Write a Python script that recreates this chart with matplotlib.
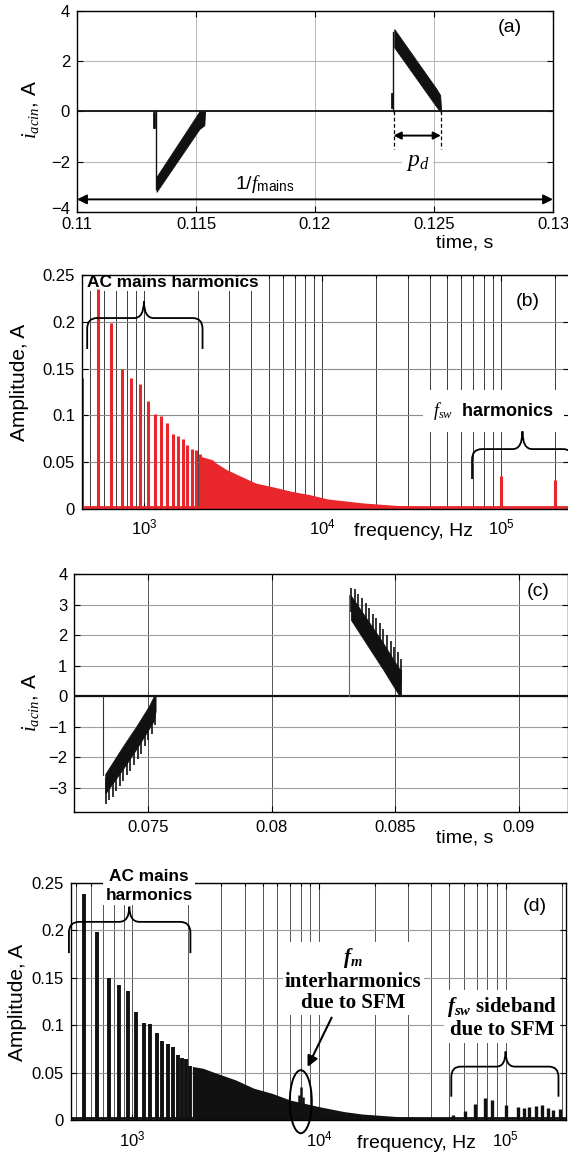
"""AC input current and its spectrum, fixed switching (a, b) vs. SFM (c, d)."""

import matplotlib

matplotlib.use("Agg")
import matplotlib.pyplot as plt
from matplotlib.patches import Ellipse, PathPatch
from matplotlib.path import Path
from matplotlib.transforms import ScaledTranslation
import numpy as np

plt.rcParams["font.family"] = ["Liberation Sans", "DejaVu Sans"]
plt.rcParams["mathtext.fontset"] = "custom"
plt.rcParams["mathtext.rm"] = "Liberation Sans"
plt.rcParams["mathtext.it"] = "Liberation Serif:italic"
plt.rcParams["mathtext.bf"] = "Liberation Serif:italic:bold"

RED = "#e8262c"
INK = "#111111"

# ---------------- (a) input current, fixed fsw ----------------
a_xticks = [0.11, 0.115, 0.12, 0.125, 0.13]
a_xticklabels = ["0.11", "0.115", "0.12", "0.125", "0.13"]
a_yticks = [-4, -2, 0, 2, 4]

a_neg_t = [0.11334, 0.11514, 0.11535, 0.11538]
a_neg_hi = [-2.60, 0.00, 0.00, 0.00]
a_neg_lo = [-3.20, -0.70, -0.55, 0.00]
a_neg_edge_t = [0.11332, 0.11332]
a_neg_edge_i = [0.0, -3.10]
a_neg_stub_t = [0.11324, 0.11324]
a_neg_stub_i = [-0.05, -0.60]

a_pos_t = [0.12333, 0.12510, 0.12526, 0.12530]
a_pos_hi = [3.28, 0.90, 0.65, 0.00]
a_pos_lo = [2.55, 0.19, 0.00, 0.00]
a_pos_edge_t = [0.12328, 0.12328]
a_pos_edge_i = [0.0, 3.15]
a_pos_stub_t = [0.12324, 0.12324]
a_pos_stub_i = [0.18, 0.71]

# ---------------- (b) spectrum, fixed fsw ----------------
b_harm_f = [450, 550, 650, 750, 850, 950, 1050, 1150, 1250, 1350, 1450,
            1550, 1650, 1750, 1850, 1950, 2050]
b_harm_amp = [0.140, 0.235, 0.199, 0.150, 0.140, 0.134, 0.115, 0.101, 0.0995,
              0.092, 0.080, 0.0775, 0.075, 0.068, 0.064, 0.063, 0.059]
b_env_f = [2100, 2420, 2540, 2910, 3350, 4230, 5330, 6740, 8500, 10700,
           17100, 27100, 36000, 45000]
b_env_amp = [0.056, 0.0526, 0.049, 0.042, 0.0366, 0.0277, 0.0235, 0.0188,
             0.0153, 0.0107, 0.0064, 0.0036, 0.0028, 0.0022]
b_floor_f = [450, 240000]
b_floor_amp = [0.002, 0.002]
b_sw_f = [100000, 200000]
b_sw_amp = [0.0356, 0.0313]

# ---------------- (c) input current, SFM ----------------
c_xticks = [0.075, 0.08, 0.085, 0.09]
c_xticklabels = ["0.075", "0.08", "0.085", "0.09"]
c_yticks = [-3, -2, -1, 0, 1, 2, 3, 4]

c_neg_t = [0.07325, 0.07400, 0.07450, 0.07500, 0.07522, 0.07529]
c_neg_hi = [-2.55, -1.60, -1.00, -0.35, 0.00, 0.00]
c_neg_lo = [-3.20, -2.35, -1.75, -1.10, -0.80, -0.50]
c_neg_tip_t = [0.07327, 0.07341, 0.07355, 0.07369, 0.07384, 0.07398, 0.07413,
               0.07427, 0.07442, 0.07456, 0.07471, 0.07485, 0.07500, 0.07514,
               0.07527]
c_neg_tip_lo = [-3.55, -3.40, -3.30, -3.10, -2.95, -2.80, -2.60, -2.45, -2.25,
                -2.05, -1.90, -1.65, -1.45, -1.25, -0.95]
c_neg_tip_hi = [-2.70, -2.55, -2.45, -2.30, -2.15, -2.00, -1.80, -1.65, -1.45,
                -1.25, -1.10, -0.85, -0.65, -0.45, -0.15]
c_neg_edge_t = [0.07317, 0.07317]
c_neg_edge_i = [0.0, -2.60]

c_pos_t = [0.08320, 0.08400, 0.08450, 0.08500, 0.08516, 0.08524]
c_pos_hi = [3.30, 2.35, 1.75, 1.10, 0.90, 0.85]
c_pos_lo = [2.50, 1.50, 0.88, 0.22, 0.02, 0.00]
c_pos_tip_t = [0.08322, 0.08336, 0.08351, 0.08365, 0.08380, 0.08394, 0.08409,
               0.08423, 0.08438, 0.08452, 0.08467, 0.08481, 0.08496, 0.08510,
               0.08522]
c_pos_tip_hi = [3.55, 3.50, 3.35, 3.20, 3.05, 2.90, 2.70, 2.55, 2.40, 2.20,
                2.00, 1.80, 1.60, 1.45, 1.20]
c_pos_tip_lo = [2.75, 2.70, 2.55, 2.40, 2.25, 2.10, 1.90, 1.75, 1.60, 1.40,
                1.20, 1.00, 0.80, 0.65, 0.40]
c_pos_edge_t = [0.08314, 0.08314]
c_pos_edge_i = [0.0, 3.30]

# ---------------- (d) spectrum, SFM ----------------
d_harm_f = [550, 650, 750, 850, 950, 1050, 1150, 1250, 1350, 1450, 1550,
            1650, 1750, 1850, 1950, 2050]
d_harm_amp = [0.238, 0.198, 0.150, 0.142, 0.136, 0.114, 0.102, 0.101, 0.092,
              0.083, 0.080, 0.0775, 0.069, 0.065, 0.064, 0.0565]
d_env_f = [2100, 2390, 2860, 3580, 4480, 5600, 7000, 10000, 13700, 17100,
           26800, 38400, 50000]
d_env_amp = [0.0565, 0.0546, 0.049, 0.0423, 0.0335, 0.0282, 0.0211, 0.0141,
             0.0088, 0.0063, 0.0035, 0.0025, 0.002]
d_floor_f = [470, 210000]
d_floor_amp = [0.0022, 0.0022]
d_ih_f = [7800, 8000, 8200]
d_ih_amp = [0.026, 0.035, 0.024]
d_sb_f = [52300, 60700, 68500, 77300, 84500, 100000, 117000, 125000, 134000,
          146000, 157000, 168000, 179000, 196000]
d_sb_amp = [0.005, 0.010, 0.017, 0.0236, 0.021, 0.0158, 0.014, 0.013, 0.014,
            0.0148, 0.0158, 0.0123, 0.0106, 0.0113]

amp_ticks = [0, 0.05, 0.1, 0.15, 0.2, 0.25]
amp_ticklabels = ["0", "0.05", "0.1", "0.15", "0.2", "0.25"]


def style(ax, xgrid, ygrid, xpad):
    ax.set_axisbelow("line")
    ax.tick_params(which="both", direction="in", top=True, right=True,
                   length=4, width=0.8, labelsize=12)
    ax.tick_params(axis="x", pad=xpad)
    ax.tick_params(axis="y", pad=5)
    ax.tick_params(which="minor", length=2.5)
    for s in ax.spines.values():
        s.set_linewidth(1.0)
    ax.grid(True, axis="x", which="both", color=xgrid, lw=0.7)
    ax.grid(True, axis="y", which="major", color=ygrid, lw=0.8)


def brace(ax, x0, x1, xtip, y_end, y_mid, y_tip, d=0.055):
    """Curly brace on a log-x axis, ends pointing down, tip pointing up."""
    l0, l1, lt = np.log10(x0), np.log10(x1), np.log10(xtip)
    hy = 0.35 * (y_mid - y_end)
    verts = [(x0, y_end), (x0, y_mid - hy), (x0, y_mid), (10 ** (l0 + d), y_mid),
             (10 ** (lt - d), y_mid), (xtip, y_mid), (xtip, y_tip),
             (xtip, y_mid), (10 ** (lt + d), y_mid),
             (10 ** (l1 - d), y_mid), (x1, y_mid), (x1, y_mid - hy), (x1, y_end)]
    codes = [Path.MOVETO, Path.LINETO, Path.CURVE3, Path.CURVE3,
             Path.LINETO, Path.CURVE3, Path.CURVE3,
             Path.CURVE3, Path.CURVE3,
             Path.LINETO, Path.CURVE3, Path.CURVE3, Path.LINETO]
    ax.add_patch(PathPatch(Path(verts, codes), fill=False, lw=1.3, color="black",
                           transform=ax.transData, clip_on=False, zorder=3))


fig = plt.figure(figsize=(5.68, 11.55), dpi=100)
ax_a = fig.add_axes([0.1356, 0.8165, 0.838, 0.174])
ax_b = fig.add_axes([0.1444, 0.5593, 0.857, 0.2026])
ax_c = fig.add_axes([0.1310, 0.2970, 0.869, 0.2060])
ax_d = fig.add_axes([0.1250, 0.0303, 0.871, 0.2052])

serif_bold = dict(family="Liberation Serif", weight="bold", fontsize=15)
white = dict(facecolor="white", edgecolor="none")

# ---- (a) ----
ax = ax_a
style(ax, "#b8b8b8", "#b8b8b8", 4)
ax.axhline(0, color=INK, lw=1.3, zorder=2)
ax.fill_between(a_neg_t, a_neg_lo, a_neg_hi, color=INK, lw=0.6, zorder=2.2)
ax.fill_between(a_pos_t, a_pos_lo, a_pos_hi, color=INK, lw=0.6, zorder=2.2)
ax.plot(a_neg_edge_t, a_neg_edge_i, color=INK, lw=1.0)
ax.plot(a_pos_edge_t, a_pos_edge_i, color=INK, lw=1.0)
ax.plot(a_neg_stub_t, a_neg_stub_i, color=INK, lw=2.0)
ax.plot(a_pos_stub_t, a_pos_stub_i, color=INK, lw=2.0)
ax.set_xlim(0.11, 0.13)
ax.set_ylim(-4, 4)
ax.set_xticks(a_xticks)
ax.set_xticklabels(a_xticklabels)
ax.set_yticks(a_yticks)
# the bottom y label sits just above the first time label
low = ax.get_yticklabels()[0]
low.set_transform(low.get_transform() + ScaledTranslation(0, 3 / 72, fig.dpi_scale_trans))
ax.annotate("", xy=(0.11, -3.5), xytext=(0.13, -3.5),
            arrowprops=dict(arrowstyle="<|-|>", color="black", lw=1.4,
                            mutation_scale=14, shrinkA=0, shrinkB=0))
ax.text(0.1179, -2.9, r"1/$f_{\mathrm{mains}}$", fontsize=14, ha="center", va="center")
for t in (0.12330, 0.12529):
    ax.plot([t, t], [0, -1.5], color="black", lw=0.9, ls=(0, (3, 2)))
ax.annotate("", xy=(0.12330, -0.96), xytext=(0.12529, -0.96),
            arrowprops=dict(arrowstyle="<|-|>", color="black", lw=1.4,
                            mutation_scale=11, shrinkA=0, shrinkB=0))
ax.text(0.1243, -2.0, r"$p_d$", fontsize=17, ha="center", va="center",
        bbox=dict(boxstyle="square,pad=0.15", **white))
ax.text(0.909, 0.918, "(a)", transform=ax.transAxes, fontsize=14, ha="center", va="center")
ax.text(-0.097, 0.51, r"$i_{acin}$, A", transform=ax.transAxes, fontsize=15,
        rotation=90, ha="center", va="center")
ax.text(0.815, -0.155, "time, s", transform=ax.transAxes, fontsize=14,
        ha="center", va="center")

# ---- (b) ----
ax = ax_b
ax.set_xscale("log")
style(ax, "#3c3c3c", "#8c8c8c", 6)
ax.vlines(b_harm_f, 0, b_harm_amp, color=RED, lw=2.2, zorder=2.4)
ax.fill_between(b_env_f, 0, b_env_amp, color=RED, lw=0, zorder=2.4)
ax.plot(b_floor_f, b_floor_amp, color=RED, lw=2.0, zorder=2.4)
ax.vlines(b_sw_f, 0, b_sw_amp, color=RED, lw=2.2, zorder=2.4)
ax.set_xlim(450, 240000)
ax.set_ylim(0, 0.25)
ax.set_yticks(amp_ticks)
ax.set_yticklabels(amp_ticklabels)
ax.text(480, 0.2495, "AC mains harmonics", fontsize=12.4, weight="bold",
        ha="left", va="top", zorder=2.3, bbox=dict(boxstyle="square,pad=0.05", **white))
brace(ax, 481, 2130, 1000, 0.171, 0.204, 0.222)
ax.text(91000, 0.1045, r"$f_{sw}$  harmonics", fontsize=13, weight="bold",
        ha="center", va="center", bbox=dict(boxstyle="square,pad=0.55", **white))
brace(ax, 68900, 253000, 132000, 0.032, 0.064, 0.083)
ax.text(0.916, 0.886, "(b)", transform=ax.transAxes, fontsize=14, ha="center", va="center")
ax.text(-0.129, 0.543, "Amplitude, A", transform=ax.transAxes, fontsize=15,
        rotation=90, ha="center", va="center")
ax.text(0.681, -0.098, "frequency, Hz", transform=ax.transAxes, fontsize=14,
        ha="center", va="center")

# ---- (c) ----
ax = ax_c
style(ax, "#555555", "#a0a0a0", 5.5)
ax.axhline(0, color=INK, lw=1.6, zorder=2)
ax.fill_between(c_neg_t, c_neg_lo, c_neg_hi, color=INK, lw=0.5, zorder=2.2)
ax.fill_between(c_pos_t, c_pos_lo, c_pos_hi, color=INK, lw=0.5, zorder=2.2)
ax.vlines(c_neg_tip_t, c_neg_tip_lo, c_neg_tip_hi, color=INK, lw=1.2, zorder=2.2)
ax.vlines(c_pos_tip_t, c_pos_tip_lo, c_pos_tip_hi, color=INK, lw=1.2, zorder=2.2)
ax.plot(c_neg_edge_t, c_neg_edge_i, color="#333333", lw=0.8)
ax.plot(c_pos_edge_t, c_pos_edge_i, color="#666666", lw=0.8)
ax.set_xlim(0.072, 0.092)
ax.set_ylim(-3.8, 4)
ax.set_xticks(c_xticks)
ax.set_xticklabels(c_xticklabels)
ax.set_yticks(c_yticks)
ax.text(0.94, 0.926, "(c)", transform=ax.transAxes, fontsize=14, ha="center", va="center")
ax.text(-0.088, 0.462, r"$i_{acin}$, A", transform=ax.transAxes, fontsize=15,
        rotation=90, ha="center", va="center")
ax.text(0.79, -0.109, "time, s", transform=ax.transAxes, fontsize=14,
        ha="center", va="center")

# ---- (d) ----
ax = ax_d
ax.set_xscale("log")
style(ax, "#555555", "#999999", 7)
ax.vlines(d_harm_f, 0, d_harm_amp, color=INK, lw=2.8, zorder=2.4)
ax.fill_between(d_env_f, 0, d_env_amp, color=INK, lw=0, zorder=2.4)
ax.plot(d_floor_f, d_floor_amp, color=INK, lw=2.0, zorder=2.4)
ax.vlines(d_ih_f, 0, d_ih_amp, color=INK, lw=1.8, zorder=2.4)
ax.vlines(d_sb_f, 0, d_sb_amp, color=INK, lw=2.4, zorder=2.4)
ax.set_xlim(470, 210000)
ax.set_ylim(0, 0.25)
ax.set_yticks(amp_ticks)
ax.set_yticklabels(amp_ticklabels)
ax.text(1230, 0.247, "AC mains\nharmonics", fontsize=12.4, weight="bold",
        ha="center", va="center", linespacing=1.3,
        bbox=dict(boxstyle="square,pad=0.15", **white))
brace(ax, 458, 2050, 965, 0.176, 0.209, 0.225)
ax.text(15300, 0.148, "$\\mathbf{f_m}$\ninterharmonics\ndue to SFM", ha="center",
        va="center", linespacing=1.1, bbox=dict(boxstyle="square,pad=0.1", **white),
        **serif_bold)
ax.text(96000, 0.108, "$\\mathbf{f_{sw}}$ sideband\ndue to SFM", ha="center",
        va="center", linespacing=1.1, bbox=dict(boxstyle="square,pad=0.15", **white),
        **serif_bold)
brace(ax, 51200, 192000, 100000, 0.0246, 0.0563, 0.0722, d=0.05)
ax.annotate("", xy=(8700, 0.056), xytext=(11700, 0.108),
            arrowprops=dict(arrowstyle="-|>", color="black", lw=1.5,
                            mutation_scale=16, shrinkA=0, shrinkB=0))
ring = ScaledTranslation(8000, 0.0193, ax.transData)
ax.add_patch(Ellipse((0, 0), 0.22, 0.63, transform=fig.dpi_scale_trans + ring,
                     fill=False, lw=1.4, color="black", clip_on=False, zorder=3))
ax.text(0.937, 0.90, "(d)", transform=ax.transAxes, fontsize=14, ha="center", va="center")
ax.text(-0.109, 0.498, "Amplitude, A", transform=ax.transAxes, fontsize=15,
        rotation=90, ha="center", va="center")
ax.text(0.699, -0.098, "frequency, Hz", transform=ax.transAxes, fontsize=14,
        ha="center", va="center")

fig.savefig("out.png", dpi=100)
plt.close(fig)
